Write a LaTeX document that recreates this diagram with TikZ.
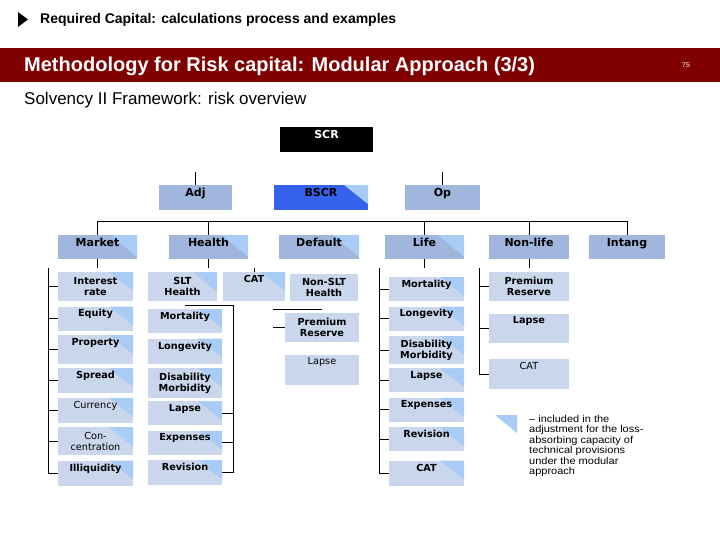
\documentclass[tikz,border=0pt]{standalone}
\usepackage{fontspec}
\setmainfont{Liberation Sans}
\newfontfamily\boxfont{DejaVu Sans}
\newfontfamily\legendfont[FakeStretch=1.1]{Liberation Sans}
\usetikzlibrary{positioning}

\definecolor{barred}{RGB}{128,0,0}
\definecolor{modblue}{RGB}{160,182,220}
\definecolor{subblue}{RGB}{202,214,236}
\definecolor{bscrblue}{RGB}{52,98,236}
\definecolor{triblue}{RGB}{168,204,246}

\tikzset{
    mod/.style={fill=modblue, minimum width=79pt, minimum height=24pt, inner sep=2pt,
        text height=9pt, text depth=11pt, font=\boxfont\bfseries\fontsize{11}{12}\selectfont},
    sub/.style={fill=subblue, minimum width=75pt, minimum height=24pt, inner sep=2pt,
        align=center, text height=8pt, text depth=12pt,
        font=\boxfont\bfseries\fontsize{9.7}{11}\selectfont},
    two/.style={text height=, text depth=, minimum height=#1},
    lite/.style={font=\boxfont\fontsize{9.7}{11}\selectfont},
    tri/.style={path picture={\fill[triblue] (path picture bounding box.north east)
        -- ++(-24pt,0pt) -- ++(24pt,-19pt) -- cycle;}},
    bigtri/.style={path picture={\fill[triblue] (path picture bounding box.north east)
        -- ++(-26pt,0pt) -- ++(26pt,-22pt) -- cycle;}},
    link/.style={line width=1pt}
}

\begin{document}
\begin{tikzpicture}[x=1pt, y=-1pt]
            \useasboundingbox (0,0) rectangle (720,540);

            \fill (18,12) -- (28,19.5) -- (18,27) -- cycle;
            \node[anchor=west, inner sep=0pt, font=\bfseries\fontsize{14}{16}\selectfont] (sect) at (40,20)
                {Required Capital: calculations process and examples};
            \fill[barred] (0,48) rectangle (720,82);
            \node[anchor=west, inner sep=0pt, text=white, font=\bfseries\fontsize{20}{24}\selectfont] (title) at (24,66)
                {Methodology for Risk capital: Modular Approach (3/3)};
            \node[text=white, font=\fontsize{7}{8}\selectfont] (page) at (686,65) {75};
            \node[anchor=west, inner sep=0pt, font=\fontsize{17}{20}\selectfont] (subt) at (24,100)
                {Solvency II Framework: risk overview};

            \node[mod, fill=black, text=white, minimum width=93pt, minimum height=25pt] (scr) at (326.5,139.5) {SCR};
            \node[mod, minimum width=73pt, minimum height=25pt] (adj) at (195.5,197.5) {Adj};
            \node[mod, fill=bscrblue, tri, minimum width=94pt, minimum height=25pt] (bscr) at (321,197.5) {BSCR};
            \node[mod, minimum width=75pt, minimum height=25pt] (op) at (442.5,197.5) {Op};

            \node[mod, bigtri] (mkt) at (97.5,247) {Market};
            \node[mod, bigtri] (hlt) at (208.5,247) {Health};
            \node[mod, bigtri, minimum width=80pt] (dft) at (319,247) {Default};
            \node[mod, bigtri] (life) at (424.5,247) {Life};
            \node[mod, minimum width=80pt] (nl) at (529,247) {Non-life};
            \node[mod, minimum width=76pt] (intg) at (627,247) {Intang};

            \node[sub, tri, two=29pt, anchor=north] (m1) at (95.5,272) {Interest\\rate};
            \node[sub, tri, below=5pt of m1] (m2) {Equity};
            \node[sub, tri, minimum height=29pt, text depth=17pt, below=4pt of m2] (m3) {Property};
            \node[sub, tri, minimum height=25pt, below=4pt of m3] (m4) {Spread};
            \node[sub, tri, lite, minimum height=25pt, below=4pt of m4] (m5) {Currency};
            \node[sub, tri, lite, two=28pt, below=4pt of m5] (m6) {Con-\\centration};
            \node[sub, tri, minimum height=25pt, below=5pt of m6] (m7) {Illiquidity};

            \node[sub, tri, two=29pt, minimum width=69pt, anchor=north] (hs) at (182.5,272) {SLT\\Health};
            \node[sub, tri, minimum width=62pt, minimum height=29pt, text depth=17pt, anchor=north] (hc) at (254,272) {CAT};
            \node[sub, two=27pt, minimum width=68pt, anchor=north] (hn) at (324,274) {Non-SLT\\Health};

            \node[sub, tri, minimum width=74pt, anchor=north] (hs1) at (185,309) {Mortality};
            \node[sub, tri, minimum width=74pt, minimum height=25pt, below=5pt of hs1] (hs2) {Longevity};
            \node[sub, tri, minimum width=74pt, two=30pt, below=4pt of hs2] (hs3) {Disability\\Morbidity};
            \node[sub, tri, minimum width=74pt, below=3pt of hs3] (hs4) {Lapse};
            \node[sub, tri, minimum width=74pt, below=5pt of hs4] (hs5) {Expenses};
            \node[sub, tri, minimum width=74pt, minimum height=25pt, below=5pt of hs5] (hs6) {Revision};

            \node[sub, two=29pt, minimum width=74pt, anchor=north] (hn1) at (322,313) {Premium\\Reserve};
            \node[sub, lite, minimum width=74pt, minimum height=30pt, text depth=18pt, below=12pt of hn1] (hn2) {Lapse};

            \node[sub, tri, anchor=north] (l1) at (426.5,277) {Mortality};
            \node[sub, tri, below=5pt of l1] (l2) {Longevity};
            \node[sub, tri, two=28pt, below=5pt of l2] (l3) {Disability\\Morbidity};
            \node[sub, tri, below=4pt of l3] (l4) {Lapse};
            \node[sub, tri, below=5pt of l4] (l5) {Expenses};
            \node[sub, tri, below=5pt of l5] (l6) {Revision};
            \node[sub, tri, minimum height=25pt, below=9pt of l6] (l7) {CAT};

            \node[sub, two=29pt, minimum width=80pt, anchor=north] (nl1) at (529,272) {Premium\\Reserve};
            \node[sub, minimum width=80pt, minimum height=29pt, text depth=17pt, below=12pt of nl1] (nl2) {Lapse};
            \node[sub, lite, minimum width=80pt, minimum height=30pt, text depth=18pt, below=16pt of nl2] (nl3) {CAT};

            \coordinate (bar) at (0,222);
            \draw[link] (mkt.north) -- (mkt.north |- bar) -- (intg.north |- bar) -- (intg.north);
            \foreach \n in {hlt,life,nl}
                \draw[link] (\n.north) -- (\n.north |- bar);
            \draw[link] (adj.north) -- ++(0pt,13pt);
            \draw[link] (op.north) -- ++(0pt,13pt);
            \foreach \n in {mkt,hlt,life,nl}
                \draw[link] (\n.south) -- ++(0pt,-9pt);

            \coordinate (mtop) at (48,268);
            \draw[link] (mtop) |- (m7.west);
            \foreach \i in {1,...,6}
                \draw[link] (m\i.west) -- (mtop |- m\i.west);

            \draw[link] (hc.north) -- ++(0pt,4pt);
            \draw[link] ([yshift=4pt]hs1.north) -| ([xshift=11pt]hs6.east) -- (hs6.east);
            \foreach \i in {4,5}
                \draw[link] (hs\i.east) -- ++(11pt,0pt);
            \draw[link] ([yshift=4pt]hn1.north) -- ++(-49pt,0pt);
            \draw[link] (hn1.west) -- ++(-12pt,0pt);

            \coordinate (ltop) at (379,268);
            \draw[link] (ltop) |- (l7.west);
            \foreach \i in {1,...,6}
                \draw[link] (l\i.west) -- (ltop |- l\i.west);

            \coordinate (ntop) at (479,268);
            \draw[link] (ntop) |- (nl3.west);
            \foreach \i in {1,2}
                \draw[link] (nl\i.west) -- (ntop |- nl\i.west);

            \fill[triblue] (495,415) -- (517,415) -- (517,433) -- cycle;
            \node[anchor=north west, inner sep=0pt, align=left, font=\legendfont\fontsize{10}{10.4}\selectfont] (lgd) at (529,415)
                {– included in the\\adjustment for the loss-\\absorbing capacity of\\technical provisions\\under the modular\\approach};
\end{tikzpicture}
\end{document}
